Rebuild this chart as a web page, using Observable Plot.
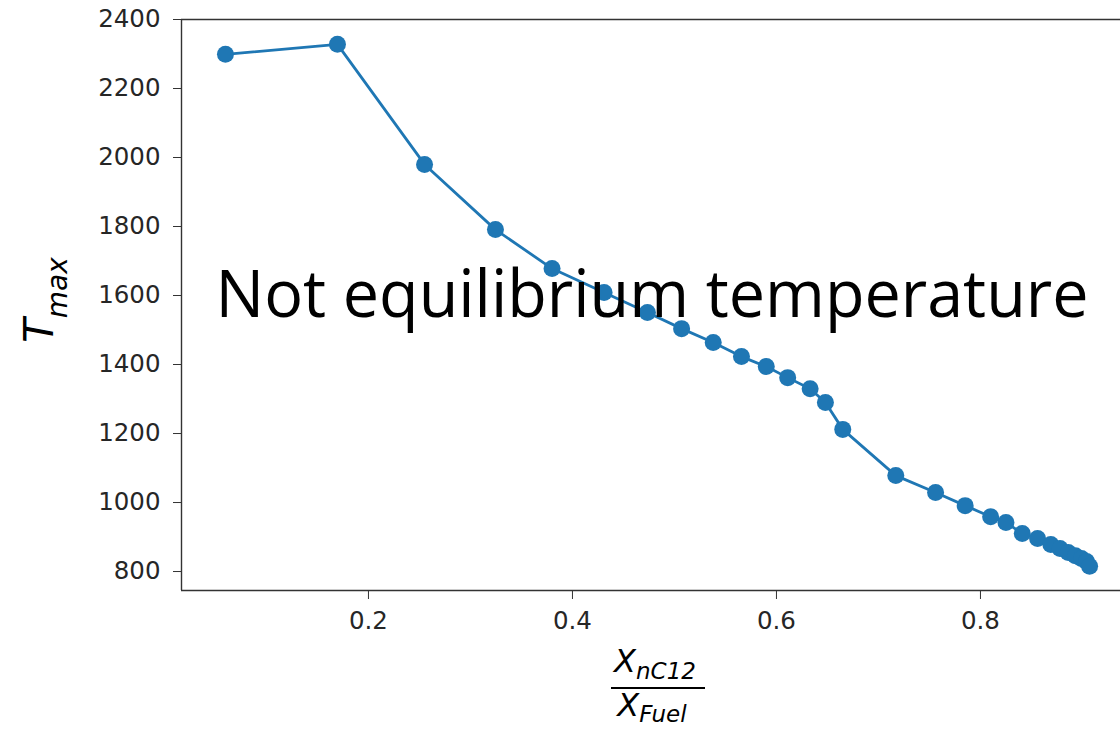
<!DOCTYPE html>
<html>
<head>
<meta charset="utf-8">
<script src="https://cdn.jsdelivr.net/npm/d3@7"></script>
<script src="https://cdn.jsdelivr.net/npm/@observablehq/plot@0.6"></script>
<style>
  html, body { margin: 0; padding: 0; background: #fff; }
  #chart svg { display: block; }
</style>
</head>
<body>
<div id="chart"></div>
<script>
// Data
const ratio = [0.0598, 0.1696, 0.255, 0.3245, 0.380, 0.431, 0.4735, 0.507, 0.538, 0.5657,
               0.590, 0.611, 0.633, 0.648, 0.665, 0.717, 0.756, 0.785, 0.810, 0.825,
               0.841, 0.856, 0.869, 0.878, 0.886, 0.893, 0.899, 0.904, 0.907];
const tmax  = [2299, 2328, 1980, 1791, 1678, 1609, 1551, 1504, 1464, 1423,
               1394, 1362, 1330, 1290, 1212, 1078, 1029, 991, 959, 942,
               910, 896, 878, 867, 855, 846, 838, 829, 815];
const xTicks = [0.2, 0.4, 0.6, 0.8];
const yTicks = [800, 1000, 1200, 1400, 1600, 1800, 2000, 2200, 2400];
const xDomain = [0.0167, 0.9373];
const yDomain = [745, 2400];
const annotation = [{x: 0.05, y: 1600, label: "Not equilibrium temperature"}];

const data = ratio.map((r, i) => ({r, t: tmax[i]}));
const blue = "#1f77b4";
const tickFont = "DejaVu Sans";

const plot = Plot.plot({
  width: 1120,
  height: 730,
  marginLeft: 181,
  marginRight: 0,
  marginTop: 19,
  marginBottom: 140,
  style: {background: "#fff", fontFamily: tickFont},
  x: {domain: xDomain, ticks: xTicks},
  y: {domain: yDomain, ticks: yTicks},
  marks: [
    Plot.ruleY(yDomain, {stroke: "#333", strokeWidth: 1.4}),
    Plot.ruleX([xDomain[0]], {stroke: "#333", strokeWidth: 1.4}),
    Plot.axisX({ticks: xTicks, tickSize: 9, tickPadding: 12, fontSize: 24.5, label: null,
                tickFormat: d3.format(".1f"), stroke: "#333", fill: "#262626"}),
    Plot.axisY({ticks: yTicks, tickSize: 8, tickPadding: 13, fontSize: 24.5, label: null,
                tickFormat: d => String(d), stroke: "#333", fill: "#262626"}),
    Plot.line(data, {x: "r", y: "t", stroke: blue, strokeWidth: 2.8}),
    Plot.dot(data, {x: "r", y: "t", r: 8.5, fill: blue, stroke: "none"}),
    Plot.text(annotation, {x: "x", y: "y", text: "label", textAnchor: "start", lineAnchor: "middle",
                           fontSize: 66, fill: "#000", fontFamily: "Open Sans", className: "annot"})
  ]
});

document.getElementById("chart").appendChild(plot);

const svg = d3.select(plot);
// stretch annotation to match reference width
svg.selectAll(".annot text").attr("textLength", 873).attr("lengthAdjust", "spacingAndGlyphs");

// Y label: T_max (rotated, italic)
const yl = svg.append("text")
  .attr("transform", "translate(53,300) rotate(-90)")
  .attr("text-anchor", "middle")
  .attr("font-family", "DejaVu Sans")
  .attr("font-style", "italic")
  .attr("fill", "#000");
yl.append("tspan").attr("font-size", 40).text("T");
yl.append("tspan").attr("font-size", 28).attr("dy", 14).text("max");

// X label: fraction X_nC12 / X_Fuel
const cx = 655;
const num = svg.append("text")
  .attr("x", cx).attr("y", 672)
  .attr("text-anchor", "middle")
  .attr("font-family", "DejaVu Sans").attr("font-style", "italic").attr("fill", "#000");
num.append("tspan").attr("font-size", 32).text("X");
num.append("tspan").attr("font-size", 23).attr("dy", 7).text("nC12");

svg.append("line")
  .attr("x1", 611).attr("x2", 705).attr("y1", 688).attr("y2", 688)
  .attr("stroke", "#000").attr("stroke-width", 2.2);

const den = svg.append("text")
  .attr("x", cx - 3).attr("y", 716)
  .attr("text-anchor", "middle")
  .attr("font-family", "DejaVu Sans").attr("font-style", "italic").attr("fill", "#000");
den.append("tspan").attr("font-size", 32).text("X");
den.append("tspan").attr("font-size", 23).attr("dy", 6).text("Fuel");
</script>
</body>
</html>
